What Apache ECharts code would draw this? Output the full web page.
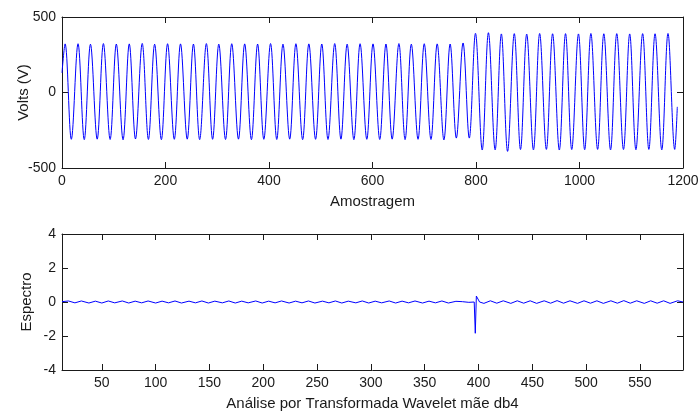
<!DOCTYPE html>
<html>
<head>
<meta charset="utf-8">
<script src="https://cdn.jsdelivr.net/npm/echarts@6/dist/echarts.min.js"></script>
<style>
  html, body { margin: 0; padding: 0; background: #fff; }
  #chart { width: 699px; height: 412px; }
</style>
</head>
<body>
<div id="chart"></div>
<script>
// top plot: sample index / voltage at each turning point of the waveform
const voltsX = [
  0, 6, 18, 31, 43, 55, 68, 80, 93, 105, 118, 130, 142, 155, 167, 179, 192, 204, 217, 229,
  242, 254, 266, 279, 291, 303, 316, 328, 341, 353, 366, 378, 390, 403, 415, 427, 440, 452,
  465, 477, 490, 502, 514, 527, 539, 551, 564, 576, 589, 601, 614, 626, 638, 651, 663, 675,
  688, 700, 713, 725, 738, 750, 762, 775, 787, 799, 812, 824, 837, 849, 861, 874, 886, 898,
  911, 923, 936, 948, 961, 973, 985, 998, 1010, 1022, 1035, 1047, 1060, 1072, 1085, 1097,
  1109, 1122, 1134, 1146, 1159, 1171, 1184, 1189
]
const voltsY = [
  130, 322, -310, 323, -312, 320, -309, 324, -311, 321, -313, 322, -308, 325, -311, 320, -312, 323, -310, 322,
  -309, 321, -312, 324, -310, 320, -311, 323, -309, 322, -312, 321, -310, 324, -311, 320, -309, 323,
  -312, 322, -310, 321, -311, 324, -309, 320, -312, 323, -310, 322, -311, 321, -309, 324, -312, 320,
  -310, 323, -311, 322, -314, 321, -302, 328, -302, 392, -381, 396, -380, 388, -390, 390, -378, 387,
  -380, 391, -377, 389, -381, 390, -378, 388, -379, 391, -377, 389, -380, 390, -378, 388,
  -379, 390, -377, 389, -380, 391, -377, -95
]

// bottom plot: wavelet detail coefficients (db4)
const specX = [
  13, 19, 25, 31, 38, 44, 50, 56, 62, 69, 75, 81, 87, 93, 100, 106, 112, 118, 124, 131,
  137, 143, 149, 155, 162, 168, 174, 180, 186, 193, 199, 205, 211, 217, 224, 230, 236, 242,
  248, 255, 261, 267, 273, 279, 286, 292, 298, 304, 310, 317, 323, 329, 335, 341, 348, 354,
  360, 366, 372, 379, 385, 391, 396, 397, 398, 399, 401, 405, 411, 417, 423, 430, 436, 442,
  448, 454, 461, 467, 473, 479, 485, 492, 498, 504, 510, 516, 523, 529, 535, 541, 547, 554,
  560, 566, 572, 578, 585, 590
]
const specY = [
  0.02, 0.06, -0.05, 0.06, -0.06, 0.05, -0.06, 0.06, -0.05, 0.06, -0.06, 0.05, -0.05, 0.06, -0.06, 0.05, -0.05, 0.06, -0.06, 0.05,
  -0.05, 0.06, -0.06, 0.05, -0.05, 0.06, -0.06, 0.05, -0.05, 0.06, -0.06, 0.05, -0.05, 0.06, -0.06, 0.05, -0.05, 0.06,
  -0.06, 0.05, -0.05, 0.06, -0.06, 0.05, -0.05, 0.06, -0.06, 0.05, -0.05, 0.06, -0.06, 0.05, -0.05, 0.06, -0.06, 0.05,
  -0.05, 0.06, -0.06, 0.04, 0.02, -0.02, 0.0, -1.84, 0.35, 0.25, 0.0, -0.08, 0.07, -0.07, 0.07, -0.08, 0.07, -0.07,
  0.07, -0.08, 0.07, -0.07, 0.08, -0.07, 0.07, -0.08, 0.07, -0.07, 0.07, -0.08, 0.07, -0.07, 0.08, -0.07, 0.07, -0.08,
  0.07, -0.07, 0.07, -0.08, 0.07, 0.0
]

const topXTicks = [0, 1200, 200]
const topYTicks = [-500, 500, 500]
const botXLabels = [50, 100, 150, 200, 250, 300, 350, 400, 450, 500, 550]
const botXRange = [13, 590]
const botYTicks = [-4, 4, 2]

const FONT = 'Liberation Sans'
const INK = '#1a1a1a'

const chart = echarts.init(document.getElementById('chart'), null, { renderer: 'canvas' })

function box(extra) {
  return Object.assign({
    type: 'value',
    nameMoveOverlap: false,
    axisLine: { show: true, onZero: false, lineStyle: { color: INK, width: 1 } },
    axisTick: { show: true, inside: true, length: 6, lineStyle: { color: INK } },
    splitLine: { show: false },
    axisLabel: { color: INK, fontFamily: FONT, fontSize: 14, margin: 6, formatter: v => String(v) },
    nameTextStyle: { color: INK, fontFamily: FONT, fontSize: 15 }
  }, extra)
}

function mirror(extra) {
  const a = box(extra)
  a.axisLabel = { show: false }
  return a
}

const topX = { min: topXTicks[0], max: topXTicks[1], interval: topXTicks[2] }
const topY = { min: topYTicks[0], max: topYTicks[1], interval: topYTicks[2] }
const botX = { min: botXRange[0], max: botXRange[1] }
const botY = { min: botYTicks[0], max: botYTicks[1], interval: botYTicks[2] }

const botXTick = { show: true, inside: true, length: 6, lineStyle: { color: INK }, customValues: botXLabels }

const option = {
  animation: false,
  backgroundColor: '#fff',
  grid: [
    { left: 62, top: 17, width: 621, height: 151, containLabel: false, outerBoundsMode: 'none' },
    { left: 62, top: 234, width: 621, height: 136, containLabel: false, outerBoundsMode: 'none' }
  ],
  xAxis: [
    box(Object.assign({ gridIndex: 0, position: 'bottom', name: 'Amostragem', nameLocation: 'middle', nameGap: 26 }, topX)),
    mirror(Object.assign({ gridIndex: 0, position: 'top' }, topX)),
    box(Object.assign({
      gridIndex: 1, position: 'bottom',
      name: 'Análise por Transformada Wavelet mãe db4', nameLocation: 'middle', nameGap: 26,
      axisTick: botXTick,
      axisLabel: { color: INK, fontFamily: FONT, fontSize: 14, margin: 6, customValues: botXLabels, formatter: v => String(v) }
    }, botX)),
    mirror(Object.assign({ gridIndex: 1, position: 'top', axisTick: botXTick }, botX))
  ],
  yAxis: [
    box(Object.assign({ gridIndex: 0, position: 'left', name: 'Volts (V)', nameLocation: 'middle', nameGap: 31, nameRotate: 90 }, topY)),
    mirror(Object.assign({ gridIndex: 0, position: 'right' }, topY)),
    box(Object.assign({ gridIndex: 1, position: 'left', name: 'Espectro', nameLocation: 'middle', nameGap: 28, nameRotate: 90 }, botY)),
    mirror(Object.assign({ gridIndex: 1, position: 'right' }, botY))
  ],
  series: [
    {
      type: 'line',
      xAxisIndex: 0, yAxisIndex: 0,
      data: voltsX.map((x, i) => [x, voltsY[i]]),
      showSymbol: false,
      smooth: 0.36,
      lineStyle: { color: '#0000ff', width: 1 },
      silent: true
    },
    {
      type: 'line',
      xAxisIndex: 2, yAxisIndex: 2,
      data: specX.map((x, i) => [x, specY[i]]),
      showSymbol: false,
      lineStyle: { color: '#0000ff', width: 1 },
      silent: true
    }
  ]
}

chart.setOption(option)
</script>
</body>
</html>
